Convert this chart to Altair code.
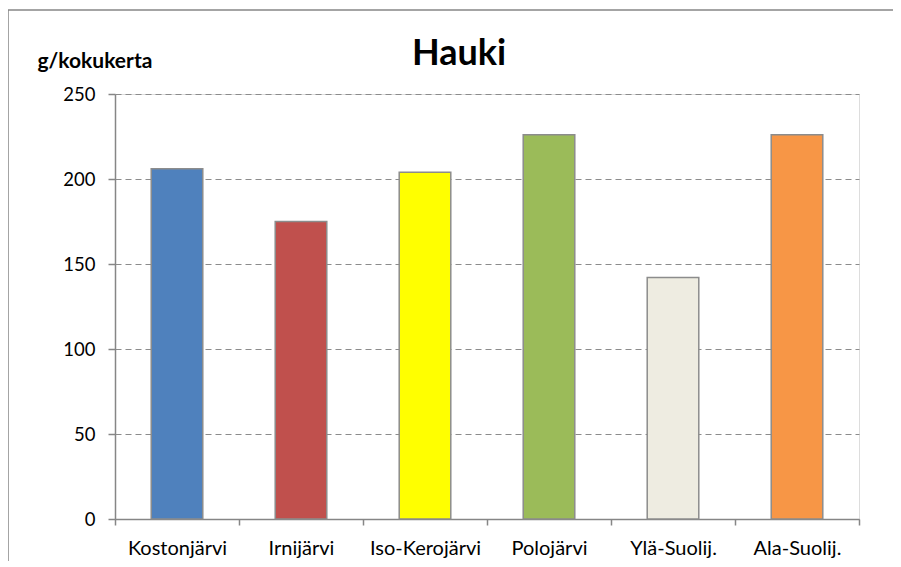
import altair as alt
import pandas as pd

categories = ["Kostonjärvi", "Irnijärvi", "Iso-Kerojärvi", "Polojärvi", "Ylä-Suolij.", "Ala-Suolij."]
values = [206, 175, 204, 226, 142, 226]
colors = ["#4F81BD", "#C0504D", "#FFFF00", "#9BBB59", "#EEECE1", "#F79646"]
y_ticks = [0, 50, 100, 150, 200, 250]

df = pd.DataFrame({"lake": categories, "value": values})

FONT = "Lato"
GRAY = "#868686"

bars = alt.Chart(df).mark_bar(
    width=alt.RelativeBandSize(0.416), stroke="#8c8c8c", strokeWidth=1.5
).encode(
    x=alt.X(
        "lake:N",
        sort=categories,
        scale=alt.Scale(paddingInner=0, paddingOuter=0),
        axis=alt.Axis(
            title=None, labelAngle=0, tickBand="extent", tickSize=6,
            tickColor=GRAY, tickWidth=1.5, domainColor=GRAY, domainWidth=1.5,
            grid=False, labelFont=FONT, labelFontSize=20, labelColor="#000000",
            labelPadding=13,
        ),
    ),
    y=alt.Y(
        "value:Q",
        scale=alt.Scale(domain=[0, 250], nice=False),
        axis=alt.Axis(
            values=y_ticks, grid=True, gridDash=[6, 4], gridColor="#8c8c8c",
            gridWidth=1.2, domainColor=GRAY, domainWidth=1.5, tickColor=GRAY,
            tickWidth=1.5, tickSize=7, labelPadding=13, labelFont=FONT,
            labelFontSize=18.5, labelColor="#000000",
            title="g/kokukerta", titleAngle=0, titleX=-78, titleY=-27,
            titleAlign="left", titleBaseline="alphabetic", titleFont=FONT,
            titleFontSize=21, titleFontWeight="bold", titleColor="#000000",
        ),
    ),
    color=alt.Color("lake:N", scale=alt.Scale(domain=categories, range=colors), legend=None),
)

frame_df = pd.DataFrame({"k": [0]})
left_border = alt.Chart(frame_df).mark_rule(color=GRAY, strokeWidth=1.5).encode(
    x=alt.value(-107), y=alt.value(-84), y2=alt.value(480)
)
top_border = alt.Chart(frame_df).mark_rule(color=GRAY, strokeWidth=1.5).encode(
    x=alt.value(-107), x2=alt.value(800), y=alt.value(-84)
)

chart = alt.layer(bars, left_border, top_border).properties(
    width=744,
    height=425,
    padding={"left": 107, "top": 86, "right": 34, "bottom": 42},
    autosize=alt.AutoSizeParams(type="none"),
    title=alt.TitleParams(
        "Hauki", font=FONT, fontSize=36, fontWeight="bold", color="#000000",
        anchor="middle", frame="group", dx=-28, dy=92, baseline="alphabetic", offset=0,
    ),
).configure_view(stroke=None).configure(background="white")

chart.save("out.html", embed_options={"renderer": "svg", "actions": False})
